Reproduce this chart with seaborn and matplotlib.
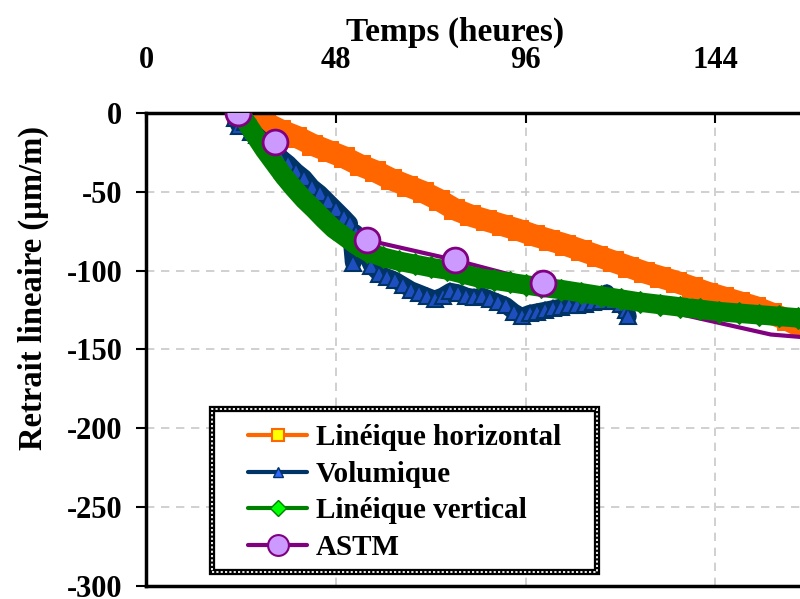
import matplotlib
matplotlib.use('Agg')
import matplotlib.pyplot as plt
from matplotlib.lines import Line2D
from matplotlib.patches import Rectangle
import seaborn as sns

# Linéique horizontal
horiz_h = [23, 26, 30, 34, 38, 42, 46, 50, 54, 58, 62, 66, 70, 74, 78, 82, 86, 90, 94, 98,
           102, 106, 110, 114, 118, 122, 126, 130, 134, 138, 142, 146, 150, 154, 158, 162, 166, 170]
horiz_v = [0, -3, -6, -11, -15, -20, -24, -28, -33, -37, -42, -46, -50, -55, -61, -65, -68, -71, -74, -77.5,
           -80.5, -83.5, -87, -90.5, -94, -97.5, -101, -104, -107, -110.5, -114, -117, -120, -123, -127, -131, -136, -141]

# Volumique
vol_h = [22.5, 23.5, 25, 26.5, 28, 30, 32, 34, 36, 38, 40, 42, 44, 46, 48, 50, 51.5, 52.4, 53, 55,
         57, 59, 61, 63, 65, 67, 69, 71, 73, 75, 77, 79, 81, 83, 85, 87, 89, 91, 93, 95,
         97, 99, 101, 103, 105, 107, 109, 110, 111, 113, 115, 116.5, 118, 120, 121.5, 122]
vol_v = [-3, -8, -6, -12, -14, -19, -24, -28, -32, -37, -41, -47, -51, -56, -61, -66, -70, -95, -76, -86,
         -97, -102, -104, -106, -109, -112, -114, -116, -118, -116, -113, -114, -116, -117, -116, -118, -120, -122, -126, -129,
         -127, -126, -125, -124, -123, -122, -122, -114, -121, -120, -119, -114, -119, -121, -125, -129]

# Linéique vertical
vert_h = [23, 25, 27.5, 30, 32.5, 35, 37.5, 40, 42.5, 45, 47.5, 50, 53, 56, 60, 64, 68, 72, 76, 80,
          84, 88, 92, 96, 100, 105, 110, 115, 120, 125, 130, 135, 140, 145, 150, 155, 160, 165, 170]
vert_v = [0, -4.5, -14, -23.5, -32, -40.5, -48, -55, -61, -67.5, -73.5, -78, -83.5, -88, -91.5, -94, -96, -98, -99.5, -102,
          -104.5, -106, -107.5, -109, -110.5, -112, -114, -116, -118, -120, -121.5, -123, -124.5, -126, -127, -128, -129, -130, -131]

# ASTM (markers only on the first five readings)
astm_h = [23.3, 32.6, 55.9, 78.2, 100.4, 158, 175]
astm_v = [0, -18.4, -80.6, -93.3, -108, -140.5, -144]
n_astm_marks = 5

labels = ['Linéique horizontal', 'Volumique', 'Linéique vertical', 'ASTM']

sns.set_style('white')
plt.rcParams['font.family'] = ['Liberation Serif', 'DejaVu Serif']
plt.rcParams['font.weight'] = 'bold'
plt.rcParams['axes.unicode_minus'] = False
for k in ['text.color', 'axes.labelcolor', 'xtick.color', 'ytick.color']:
    plt.rcParams[k] = 'black'

fig = plt.figure(figsize=(8, 5.99), dpi=100)
ax = fig.add_axes([0.1825, 0.0217, 0.949, 0.7897])

sns.lineplot(x=horiz_h, y=horiz_v, ax=ax, color='#ff6600', lw=16, marker='s', markersize=15,
             mfc='#ff6600', mec='#ff6600', estimator=None, sort=False, zorder=2)
sns.lineplot(x=astm_h, y=astm_v, ax=ax, color='#800080', lw=3, estimator=None, sort=False, zorder=2.5)
sns.lineplot(x=vol_h, y=vol_v, ax=ax, color='#003366', lw=12, marker='^', markersize=11,
             mfc='#1f4fbf', mec='#003366', mew=1.5, estimator=None, sort=False, zorder=3)
sns.lineplot(x=vert_h, y=vert_v, ax=ax, color='#008000', lw=14, marker='D', markersize=11,
             mfc='#008000', mec='#008000', estimator=None, sort=False, zorder=4)
sns.scatterplot(x=astm_h[:n_astm_marks], y=astm_v[:n_astm_marks], ax=ax, s=320, color='#cc99ff',
                edgecolor='#800080', linewidth=2, zorder=6)

ax.set_xlim(0, 192)
ax.set_ylim(-300, 0)
ax.set_xticks([0, 48, 96, 144])
ax.set_yticks([0, -50, -100, -150, -200, -250, -300])
ax.xaxis.tick_top()
ax.tick_params(axis='x', direction='in', length=7, width=1.5, pad=27, labelsize=22)
ax.tick_params(axis='y', direction='out', length=7, width=1.5, pad=10, labelsize=22, left=True)
ax.grid(True, color='#c8c8c8', linestyle=(0, (5, 4)), linewidth=1.2)
ax.set_axisbelow(True)
for s in ax.spines.values():
    s.set_color('black')
    s.set_linewidth(2.5)
ax.set_xlabel('')
ax.set_ylabel('')

fig.text(455.5 / 800, 1 - 32 / 599, 'Temps (heures)', ha='center', va='center', fontsize=24, weight='bold')
fig.text(33 / 800, 1 - 288 / 599, 'Retrait lineaire (µm/m)', ha='center', va='center',
         rotation=90, fontsize=23.5, weight='bold')

# legend box with the dotted double border
x0, x1 = 0.087, 0.594
y0, y1 = 0.0296, 0.374
ax.add_patch(Rectangle((x0, y0), x1 - x0, y1 - y0, transform=ax.transAxes, facecolor='white',
                       edgecolor='black', lw=4.5, zorder=8, clip_on=False))
ax.add_patch(Rectangle((x0, y0), x1 - x0, y1 - y0, transform=ax.transAxes, fill=False,
                       edgecolor='white', lw=1.3, linestyle=(0, (1.2, 1.2)), zorder=8.5, clip_on=False))

handles = [
    Line2D([], [], color='#ff6600', lw=3, marker='s', ms=9, mfc='#ffff00', mec='#ff6600', mew=1.5),
    Line2D([], [], color='#003366', lw=3, marker='^', ms=7, mfc='#3366ff', mec='#003366', mew=1),
    Line2D([], [], color='#008000', lw=3, marker='D', ms=8, mfc='#00ff00', mec='#008000', mew=1),
    Line2D([], [], color='#800080', lw=3, marker='o', ms=15, mfc='#cc99ff', mec='#800080', mew=1.5),
]
leg = ax.legend(handles, labels, loc='upper left', bbox_to_anchor=(0.135, 0.342), frameon=False,
                fontsize=21, handlelength=2.0, borderpad=0, borderaxespad=0, labelspacing=0.33,
                handletextpad=0.3)
leg.set_zorder(10)
for t in leg.get_texts():
    t.set_fontweight('bold')

fig.savefig('out.png', dpi=100)
